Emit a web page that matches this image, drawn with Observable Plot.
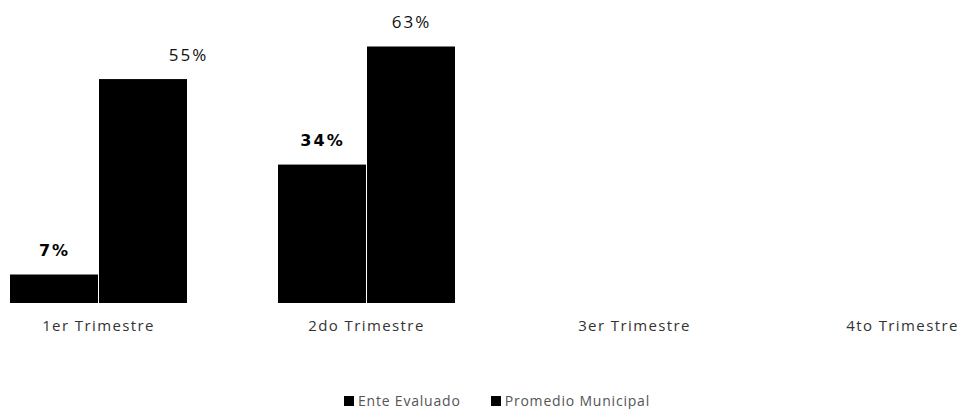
<!DOCTYPE html>
<html>
<head>
<meta charset="utf-8">
<script src="https://cdn.jsdelivr.net/npm/d3@7"></script>
<script src="https://cdn.jsdelivr.net/npm/@observablehq/plot@0.6"></script>
<style>
  body { margin: 0; background: #fff; }
  #chart svg { display: block; overflow: hidden; }
  .legend { display: flex; justify-content: center; gap: 30px; font-family: "Open Sans", sans-serif; font-size: 14px; color: #555; letter-spacing: 0.8px; margin-top: 41px; padding-left: 22px; }
  .legend span.sw { display: inline-block; width: 10px; height: 10px; background: #000; margin-right: 4px; }
</style>
</head>
<body>
<div id="chart"></div>
<div class="legend" id="legend"></div>
<script>
const categories = ["1er Trimestre", "2do Trimestre", "3er Trimestre", "4to Trimestre"];
const series = ["Ente Evaluado", "Promedio Municipal"];
const enteValues = [7, 34, null, null];
const promedioValues = [55, 63, null, null];

const data = categories.flatMap((c, i) => [
  {cat: c, serie: series[0], value: enteValues[i]},
  {cat: c, serie: series[1], value: promedioValues[i]}
]).filter(d => d.value != null);

const chart = Plot.plot({
  width: 972,
  height: 350,
  marginTop: 18,
  marginBottom: 47,
  marginLeft: 0,
  marginRight: 0,
  style: {background: "#fff"},
  fx: {domain: categories, range: [-36, 1036], paddingInner: 0.336, paddingOuter: 0.168, label: null},
  x: {domain: series, axis: null, paddingInner: 0.012, paddingOuter: 0},
  y: {domain: [0, 70], axis: null},
  color: {domain: series, range: ["#000", "#000"]},
  marks: [
    Plot.barY(data, {fx: "cat", x: "serie", y: "value", fill: "serie"}),
    Plot.text(data.filter(d => d.serie === series[0]), {
      fx: "cat", x: "serie", y: "value", text: d => d.value + "%",
      dy: -24, fontSize: 16, fontWeight: "bold", fontFamily: "DejaVu Sans", fill: "#000"
    }),
    Plot.text(data.filter(d => d.serie === series[1] && d.cat === categories[0]), {
      fx: "cat", x: "serie", y: "value", text: d => d.value + "%",
      dy: -24, dx: 45, fontSize: 17, fontFamily: "Open Sans", fill: "#111"
    }),
    Plot.text(data.filter(d => d.serie === series[1] && d.cat !== categories[0]), {
      fx: "cat", x: "serie", y: "value", text: d => d.value + "%",
      dy: -24, fontSize: 17, fontFamily: "Open Sans", fill: "#111"
    }),
    Plot.axisFx({anchor: "bottom", tickSize: 0, tickPadding: 17, label: null, fontSize: 15, fontFamily: "Open Sans", fill: "#333"})
  ]
});
chart.querySelectorAll('g[aria-label="fx-axis tick label"] text').forEach(t => t.setAttribute("letter-spacing", "1.4"));
chart.querySelectorAll('g[aria-label="text"] text').forEach(t => t.setAttribute("letter-spacing", "2"));
document.getElementById("chart").appendChild(chart);

const legend = document.getElementById("legend");
series.forEach(s => {
  const item = document.createElement("div");
  const sw = document.createElement("span");
  sw.className = "sw";
  item.appendChild(sw);
  item.appendChild(document.createTextNode(s));
  legend.appendChild(item);
});
</script>
</body>
</html>
